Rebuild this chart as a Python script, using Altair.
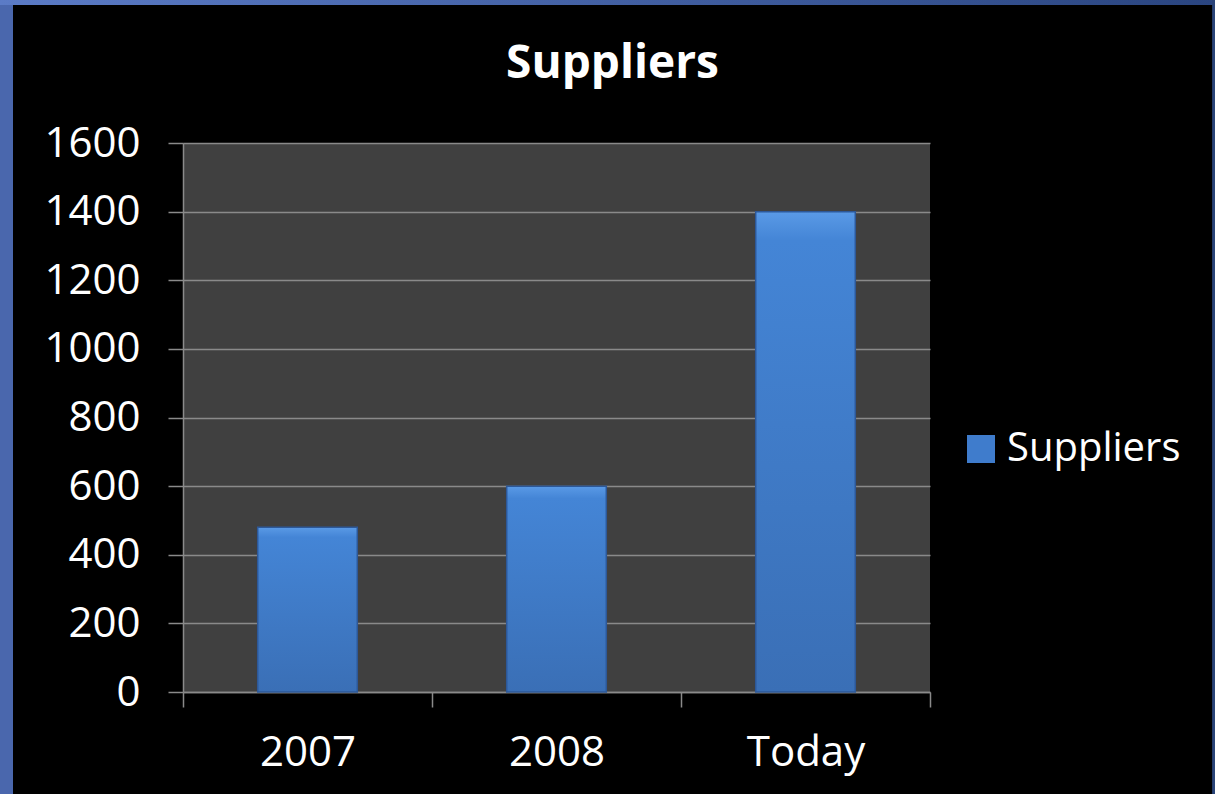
import altair as alt
import pandas as pd

categories = ["2007", "2008", "Today"]
suppliers = [480, 600, 1400]
y_ticks = [0, 200, 400, 600, 800, 1000, 1200, 1400, 1600]
series_name = "Suppliers"

df = pd.DataFrame({"period": categories, "value": suppliers, "series": [series_name] * len(categories)})

FONT = "Open Sans"
PLOT_W, PLOT_H = 747, 549
PAD = {"left": 183, "top": 143, "right": 285, "bottom": 102}

x_enc = alt.X(
    "period:N",
    sort=categories,
    scale=alt.Scale(paddingInner=0, paddingOuter=0),
    axis=alt.Axis(
        title=None,
        labelAngle=0,
        labelFont=FONT,
        labelFontSize=42,
        labelColor="white",
        labelPadding=25,
        tickBand="extent",
        tickSize=15,
        tickColor="#8a8a8a",
        tickWidth=1.5,
        domainColor="#8a8a8a",
        domainWidth=1.5,
        grid=False,
    ),
)
y_enc = alt.Y(
    "value:Q",
    scale=alt.Scale(domain=[0, 1600], nice=False),
    axis=alt.Axis(
        title=None,
        values=y_ticks,
        format="d",
        labelFont=FONT,
        labelFontSize=42,
        labelColor="white",
        labelPadding=28,
        tickSize=15,
        tickColor="#8a8a8a",
        tickWidth=1.5,
        domainColor="#8a8a8a",
        domainWidth=1.5,
        grid=True,
        gridColor="#8a8a8a",
        gridWidth=1.5,
    ),
)

base = alt.Chart(df)

bars_legend = base.mark_bar(width=alt.RelativeBandSize(0.4)).encode(
    x=x_enc,
    y=y_enc,
    color=alt.Color(
        "series:N",
        scale=alt.Scale(range=["#3f7ccc"]),
        legend=alt.Legend(
            title=None,
            orient="none",
            legendX=778,
            legendY=286,
            padding=0,
            symbolType="square",
            symbolSize=784,
            symbolStrokeWidth=0,
            labelFont=FONT,
            labelFontSize=40,
            labelColor="white",
            labelOffset=6,
            labelLimit=0,
        ),
    ),
)

bars_grad = base.mark_bar(
    width=alt.RelativeBandSize(0.4),
    color=alt.Gradient(
        gradient="linear",
        stops=[
            alt.GradientStop(color="#5a9ae6", offset=0),
            alt.GradientStop(color="#4485d6", offset=0.06),
            alt.GradientStop(color="#3a6fb6", offset=1),
        ],
        x1=0, x2=0, y1=0, y2=1,
    ),
    stroke="#2d5898",
    strokeWidth=1.5,
).encode(x=x_enc, y=y_enc)

# slide frame decoration (blue edges of the slide)
left_strip = alt.Chart(df).mark_rect(color="#4a67ad").encode(
    x=alt.value(-183), x2=alt.value(-170), y=alt.value(-143), y2=alt.value(651)
)
top_strip = alt.Chart(df).mark_rect(
    color=alt.Gradient(
        gradient="linear",
        stops=[alt.GradientStop(color="#5b7bc6", offset=0), alt.GradientStop(color="#2a4580", offset=1)],
        x1=0, x2=1, y1=0, y2=0,
    )
).encode(x=alt.value(-183), x2=alt.value(1032), y=alt.value(-143), y2=alt.value(-138))
right_strip = alt.Chart(df).mark_rect(color="#2a4478").encode(
    x=alt.value(1029.5), x2=alt.value(1032), y=alt.value(-143), y2=alt.value(651)
)

chart = (
    alt.layer(left_strip, top_strip, right_strip, bars_legend, bars_grad)
    .properties(
        width=PLOT_W,
        height=PLOT_H,
        background="black",
        padding=PAD,
        autosize=alt.AutoSizeParams(type="none"),
        title=alt.TitleParams(
            text="Suppliers",
            font=FONT,
            fontSize=46,
            fontWeight="bold",
            color="white",
            anchor="middle",
            dx=56,
            baseline="alphabetic",
            offset=0,
            dy=124,
        ),
    )
    .configure_view(fill="#404040", stroke=None)
)

chart.save("out.html", embed_options={"renderer": "svg", "actions": False})
